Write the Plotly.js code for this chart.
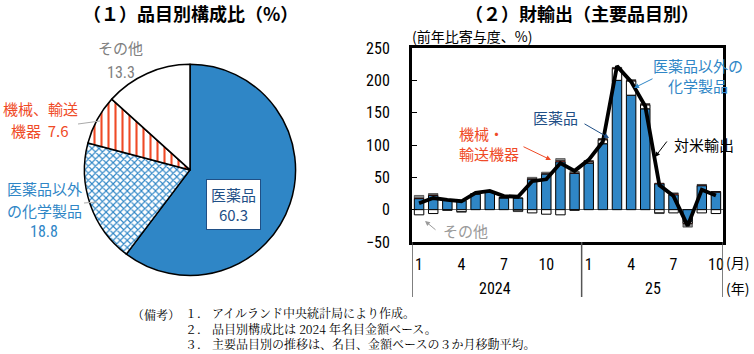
<!DOCTYPE html>
<html><head><meta charset="utf-8">
<script src="https://cdn.plot.ly/plotly-3.0.1.min.js"></script>
<style>html,body{margin:0;padding:0;background:#fff}#c{width:754px;height:354px}</style>
</head><body><div id="c"></div>
<script>
// Pie: composition by item (2024, %)
const pieLabels = ["医薬品", "医薬品以外の化学製品", "機械、輸送機器", "その他"];
const pieValues = [60.3, 18.8, 7.6, 13.3];

// Bars: contribution to y/y growth (%), Jan 2024 - Oct 2025
const months = ["1","2","3","4","5","6","7","8","9","10","11","12","1","2","3","4","5","6","7","8","9","10"];
const tickIdx = [0,3,6,9,12,15,18,21];
const tickText = ["1","4","7","10","1","4","7","10"];
const pharma    = [17, 22, 15, 14, 24, 27, 18, 18, 47, 55, 74, 56, 72, 102, 200, 177, 156, 40, 23, -18, 37, 27];
const chemicals = [-8, -6, -1, -3, 1, 1, 1, -2, -5, -7, -8, -1, 2, 6, 18, 22, 6, -5, -5, -3, -5, -6];
const machinery = [1, 1, 0, 0, 0, 0, 0, 0, 1, 1, 2, 1, 1, 1, 1, 1, 1, 1, 2, -1, 1, 1];
const others    = [4, 2, 0, -1, 0, 0, 0, -1, 2, 2, 3, 2, 1, 1, 1, 1, 1, -1, 1, -5, 1, 0];
const usExports = [10, 18, 15, 13, 26, 29, 21, 20, 44, 47, 72, 60, 77, 105, 222, 198, 160, 38, 21, -25, 31, 22];

const xi = months.map((m, i) => i);
const BLUE = "#2f86c6";
const RED = "#ef4a26";
const JP = "Noto Sans CJK JP, sans-serif";
const NUM = "Liberation Sans Narrow, Roboto Condensed, Liberation Sans, sans-serif";

const barCommon = {type: "bar", x: xi, xaxis: "x", yaxis: "y", hoverinfo: "skip", showlegend: false};
const data = [
  {type: "pie", labels: pieLabels, values: pieValues, sort: false, direction: "clockwise", rotation: 0,
   textinfo: "none", hoverinfo: "skip", showlegend: false,
   domain: {x: [0.112, 0.392], y: [0.22, 0.82]},
   marker: {colors: [BLUE, "#ffffff", "#ffffff", "#ffffff"],
            line: {color: "#000", width: 1.5},
            pattern: {shape: ["", "x", "|", ""], fgcolor: ["", BLUE, RED, ""], bgcolor: ["", "#fff", "#fff", ""],
                      size: [6, 5, 7, 6], solidity: [0.3, 0.4, 0.3, 0.3]}}},
  Object.assign({}, barCommon, {y: pharma, name: "医薬品", marker: {color: BLUE, line: {color: "#000", width: 1}}}),
  Object.assign({}, barCommon, {y: chemicals, name: "医薬品以外の化学製品", marker: {color: "#ffffff", line: {color: "#000", width: 1}}}),
  Object.assign({}, barCommon, {y: machinery, name: "機械・輸送機器", marker: {color: "#c0392b", line: {color: "#000", width: 0.5}}}),
  Object.assign({}, barCommon, {y: others, name: "その他", marker: {color: "#8c8c8c", line: {color: "#000", width: 0.5}}}),
  {type: "scatter", mode: "lines", x: xi, y: usExports, xaxis: "x", yaxis: "y", name: "対米輸出",
   line: {color: "#000", width: 3.8}, hoverinfo: "skip", showlegend: false}
];

const ann = [];
function A(x, y, text, color, size, extra) {
  ann.push(Object.assign({xref: "paper", yref: "paper", x: x / 754, y: 1 - y / 354, text: text, showarrow: false,
    font: {family: JP, size: size, color: color}, xanchor: "center", yanchor: "middle"}, extra || {}));
}
// Titles
A(190, 13, "<b>（１）品目別構成比（%）</b>", "#000", 18);
A(582, 13, "<b>（２）財輸出（主要品目別）</b>", "#000", 18);
A(410, 36, "(前年比寄与度、%)", "#000", 14, {xanchor: "left"});
// Pie labels
A(121, 48, "その他", "#808080", 15);
A(121, 72, "13.3", "#808080", 15, {font: {family: NUM, size: 16, color: "#808080"}});
A(40, 108, "機械、輸送", RED, 15);
A(40, 130, "機器  7.6", RED, 15);
A(44, 188, "医薬品以外", BLUE, 15);
A(44, 210, "の化学製品", BLUE, 15);
A(44, 232, "18.8", BLUE, 15, {font: {family: NUM, size: 16, color: BLUE}});
A(233, 204, "医薬品<br>60.3", "#1f4f86", 15, {bgcolor: "#fff", bordercolor: "#1f4f86", borderwidth: 1, borderpad: 4});
// Bar chart labels
A(698, 75, "医薬品以外の<br>化学製品", BLUE, 15);
A(555, 117, "医薬品", "#1f4f86", 15);
A(489, 143, "機械・<br>輸送機器", RED, 15, {align: "left"});
A(704, 145, "対米輸出", "#000", 15);
A(465, 230, "その他", "#9a9a9a", 15);
// x axis extras
A(495, 288, "2024", "#000", 15, {font: {family: NUM, size: 16, color: "#000"}});
A(653, 288, "25", "#000", 15, {font: {family: NUM, size: 16, color: "#000"}});
A(737, 262, "(月)", "#000", 14);
A(737, 288, "(年)", "#000", 14);
// Notes
const NOTE = "Noto Serif CJK JP, Noto Sans CJK JP, serif";
A(130, 314, "（備考）", "#000", 12, {xanchor: "left", yanchor: "middle", font: {family: NOTE, size: 12, color: "#000"}});
A(184, 328, "１． アイルランド中央統計局により作成。<br>２． 品目別構成比は 2024 年名目金額ベース。<br>３． 主要品目別の推移は、名目、金額ベースの３か月移動平均。",
  "#000", 12, {xanchor: "left", yanchor: "middle", align: "left", borderpad: 0, font: {family: NOTE, size: 12, color: "#000"}});

// Arrows (in paper pixels)
function arrow(x0, y0, x1, y1, color) {
  ann.push({xref: "paper", yref: "paper", x: x1 / 754, y: 1 - y1 / 354, ax: x0 / 754, ay: 1 - y0 / 354,
    axref: "paper", ayref: "paper", text: "", showarrow: true, arrowhead: 2, arrowsize: 1, arrowwidth: 1, arrowcolor: color});
}
arrow(654, 78, 634, 88, BLUE);
arrow(583, 123, 609, 138, "#1f4f86");
arrow(522, 146, 551, 160, RED);
arrow(668, 140, 655, 157, "#000");
arrow(437, 231, 425, 221, "#9a9a9a");

const shapes = [
  // pie leader lines
  {type: "line", xref: "paper", yref: "paper", x0: 78 / 754, y0: 1 - 124 / 354, x1: 100 / 754, y1: 1 - 121 / 354, line: {color: "#aaa", width: 1}},
  {type: "line", xref: "paper", yref: "paper", x0: 84 / 754, y0: 1 - 203 / 354, x1: 97 / 754, y1: 1 - 202 / 354, line: {color: "#aaa", width: 1}}
];
// year dividers below the plot
[-0.5, 11.5, 21.5].forEach(v => shapes.push({type: "line", xref: "x", yref: "paper", x0: v, x1: v,
  y0: 1 - 242 / 354, y1: 1 - 297 / 354, line: {color: "#555", width: 1.5}}));

const layout = {
  width: 754, height: 354, margin: {l: 0, r: 0, t: 0, b: 0},
  paper_bgcolor: "#fff", plot_bgcolor: "#fff",
  barmode: "relative", bargap: 0.33,
  xaxis: {domain: [412 / 754, 723 / 754], range: [-0.5, 21.5], tickmode: "array", tickvals: tickIdx, ticktext: tickText,
          ticks: "", showgrid: false, zeroline: false, showline: true, mirror: true, linecolor: "#000", linewidth: 3,
          ticklabelstandoff: 6, tickfont: {family: NUM, size: 16, color: "#000"}},
  yaxis: {domain: [1 - 242 / 354, 1 - 48 / 354], range: [-50, 250], dtick: 50, ticks: "inside", ticklen: 5, tickcolor: "#000",
          showgrid: false, zeroline: true, zerolinecolor: "#666", zerolinewidth: 1,
          showline: true, mirror: true, linecolor: "#000", linewidth: 3, ticklabelstandoff: 16,
          tickfont: {family: NUM, size: 16, color: "#000"}},
  annotations: ann, shapes: shapes
};
Plotly.newPlot("c", data, layout, {staticPlot: true});
</script></body></html>
